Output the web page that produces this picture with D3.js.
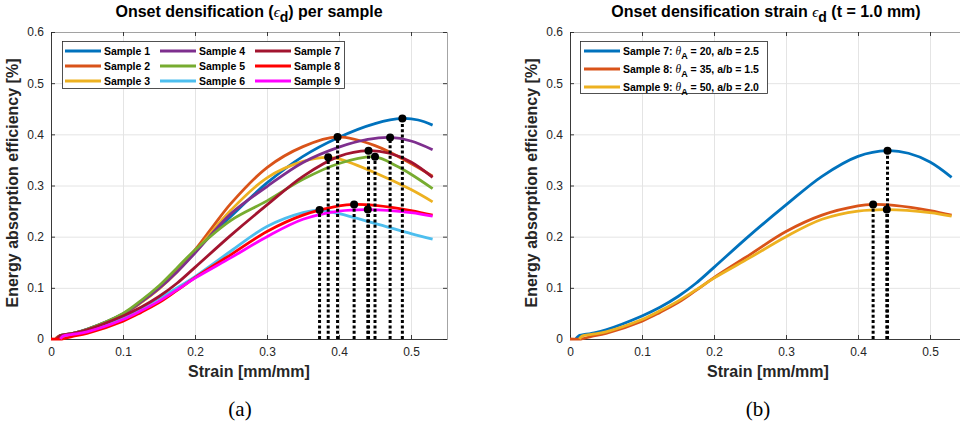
<!DOCTYPE html>
<html>
<head>
<meta charset="utf-8">
<script src="https://cdn.jsdelivr.net/npm/d3@7"></script>
<style>
  body { margin: 0; background: #fff; }
</style>
</head>
<body>
<svg id="chart" width="960" height="430" font-family="Liberation Sans, Arial, Helvetica, sans-serif"></svg>
<script>
// Energy absorption efficiency vs. strain, per sample ([strain, efficiency])
const sample1 = [[0.008,0],[0.012,0.006],[0.03,0.011],[0.05,0.019],[0.1,0.049],[0.125,0.073],[0.15,0.1],[0.175,0.134],[0.2,0.172],[0.25,0.24],[0.3,0.305],[0.35,0.357],[0.398,0.393],[0.45,0.421],[0.488,0.431],[0.51,0.428],[0.53,0.418]];
const sample2 = [[0.006,0],[0.01,0.005],[0.03,0.01],[0.05,0.018],[0.1,0.048],[0.125,0.072],[0.15,0.099],[0.175,0.133],[0.2,0.174],[0.225,0.22],[0.25,0.265],[0.3,0.335],[0.35,0.376],[0.398,0.395],[0.45,0.378],[0.5,0.343],[0.53,0.318]];
const sample3 = [[0.01,0],[0.014,0.006],[0.03,0.01],[0.05,0.018],[0.1,0.048],[0.125,0.071],[0.15,0.098],[0.175,0.131],[0.2,0.17],[0.25,0.252],[0.3,0.315],[0.35,0.347],[0.385,0.355],[0.4,0.352],[0.45,0.325],[0.5,0.292],[0.53,0.268]];
const sample4 = [[0.008,0],[0.012,0.006],[0.03,0.011],[0.05,0.019],[0.1,0.049],[0.125,0.072],[0.15,0.099],[0.175,0.131],[0.2,0.168],[0.25,0.245],[0.3,0.298],[0.35,0.345],[0.4,0.375],[0.44,0.39],[0.471,0.394],[0.5,0.387],[0.53,0.37]];
const sample5 = [[0.008,0],[0.012,0.006],[0.03,0.011],[0.05,0.019],[0.1,0.05],[0.125,0.075],[0.15,0.104],[0.175,0.139],[0.2,0.174],[0.25,0.232],[0.3,0.27],[0.35,0.312],[0.4,0.343],[0.45,0.356],[0.48,0.338],[0.5,0.322],[0.53,0.294]];
const sample6 = [[0.012,0],[0.016,0.005],[0.03,0.009],[0.05,0.015],[0.1,0.042],[0.125,0.06],[0.15,0.08],[0.175,0.1],[0.2,0.122],[0.25,0.172],[0.3,0.22],[0.35,0.247],[0.373,0.252],[0.4,0.245],[0.45,0.226],[0.5,0.206],[0.53,0.195]];
const sample7 = [[0.008,0],[0.012,0.006],[0.03,0.011],[0.05,0.018],[0.1,0.045],[0.125,0.062],[0.15,0.083],[0.175,0.109],[0.2,0.14],[0.25,0.203],[0.3,0.262],[0.35,0.318],[0.4,0.357],[0.441,0.368],[0.47,0.363],[0.5,0.346],[0.53,0.316]];
const sample8 = [[0,0],[0.015,0],[0.03,0.005],[0.05,0.011],[0.1,0.035],[0.125,0.052],[0.15,0.071],[0.175,0.095],[0.2,0.12],[0.25,0.165],[0.3,0.21],[0.35,0.242],[0.4,0.26],[0.421,0.263],[0.45,0.261],[0.5,0.251],[0.53,0.242]];
const sample9 = [[0.013,0],[0.017,0.006],[0.03,0.009],[0.05,0.014],[0.1,0.038],[0.125,0.055],[0.15,0.074],[0.175,0.096],[0.2,0.119],[0.25,0.159],[0.3,0.2],[0.35,0.234],[0.4,0.25],[0.44,0.253],[0.5,0.247],[0.53,0.24]];

const sampleNames = ["Sample 1","Sample 2","Sample 3","Sample 4","Sample 5","Sample 6","Sample 7","Sample 8","Sample 9"];
const sampleColors = ["#0072BD","#D95319","#EDB120","#7E2F8E","#77AC30","#4DBEEE","#A2142F","#FF0000","#FF00FF"];

// Panel (b): samples with t = 1.0 mm
const thicknessSamples = [7, 8, 9];
const thetaA = [20, 35, 50];
const aspectAB = ["2.5", "1.5", "2.0"];
const thicknessColors = ["#0072BD","#D95319","#EDB120"];

const xTicks = [0, 0.1, 0.2, 0.3, 0.4, 0.5];
const yTicks = [0, 0.1, 0.2, 0.3, 0.4, 0.5, 0.6];

const allSamples = [sample1, sample2, sample3, sample4, sample5, sample6, sample7, sample8, sample9];

const SANS = "Liberation Sans, Arial, Helvetica, sans-serif";
const SERIF = "Liberation Serif, DejaVu Serif, serif";
const svg = d3.select("#chart");
const fmt = d => d === 0 ? "0" : d3.format(".1f")(d);

const plotTop = 32, plotBottom = 339, plotW = 396;

function panel(left) {
  const g = svg.append("g");
  const x = d3.scaleLinear().domain([0, 0.55]).range([left, left + plotW]);
  const y = d3.scaleLinear().domain([0, 0.6]).range([plotBottom, plotTop]);

  // grid
  g.append("g").attr("transform", `translate(0,${plotBottom})`)
    .call(d3.axisBottom(x).tickValues(xTicks).tickSize(-(plotBottom - plotTop)).tickFormat(""))
    .call(a => a.select(".domain").remove())
    .call(a => a.selectAll("line").attr("stroke", "#e4e4e4").attr("stroke-width", 1));
  g.append("g").attr("transform", `translate(${left},0)`)
    .call(d3.axisLeft(y).tickValues(yTicks).tickSize(-plotW).tickFormat(""))
    .call(a => a.select(".domain").remove())
    .call(a => a.selectAll("line").attr("stroke", "#e4e4e4").attr("stroke-width", 1));

  const style = a => {
    a.select(".domain").attr("stroke", "#262626").attr("stroke-width", 0.9);
    a.selectAll(".tick line").attr("stroke", "#262626").attr("stroke-width", 0.9);
    a.selectAll("text").attr("fill", "#262626").attr("font-size", 12).attr("font-family", SANS);
  };
  g.append("g").attr("transform", `translate(0,${plotBottom})`)
    .call(d3.axisBottom(x).tickValues(xTicks).tickSizeInner(-4).tickSizeOuter(0).tickPadding(8).tickFormat(fmt)).call(style);
  g.append("g").attr("transform", `translate(0,${plotTop})`)
    .call(d3.axisTop(x).tickValues(xTicks).tickSizeInner(-4).tickSizeOuter(0).tickFormat("")).call(style)
    .call(a => a.select(".domain").attr("stroke", "#9a9a9a"));
  g.append("g").attr("transform", `translate(${left},0)`)
    .call(d3.axisLeft(y).tickValues(yTicks).tickSizeInner(-4).tickSizeOuter(0).tickPadding(7).tickFormat(fmt)).call(style);
  g.append("g").attr("transform", `translate(${left + plotW},0)`)
    .call(d3.axisRight(y).tickValues(yTicks).tickSizeInner(-4).tickSizeOuter(0).tickFormat("")).call(style)
    .call(a => a.select(".domain").attr("stroke", "#9a9a9a"));

  // axis titles
  const cx = left + plotW / 2;
  g.append("text").attr("x", cx).attr("y", 377).attr("text-anchor", "middle").attr("font-family", SANS)
    .attr("font-size", 16).attr("font-weight", "bold").attr("fill", "#262626").text("Strain [mm/mm]");
  g.append("text").attr("transform", `translate(${left - 33},183) rotate(-90)`).attr("text-anchor", "middle")
    .attr("font-family", SANS).attr("font-size", 16).attr("font-weight", "bold").attr("fill", "#262626")
    .text("Energy absorption efficiency [%]");
  return { g, x, y, cx };
}

const line = (x, y) => d3.line().x(d => x(d[0])).y(d => y(d[1])).curve(d3.curveCatmullRom.alpha(0.5));

function drawCurves(p, series, colors) {
  const { g, x, y } = p;
  const lg = line(x, y);
  series.forEach((s, i) => {
    g.append("path").attr("d", lg(s)).attr("fill", "none")
      .attr("stroke", colors[i]).attr("stroke-width", 2.8).attr("stroke-linejoin", "round");
  });
  // onset of densification: peak efficiency of each curve
  const peaks = series.map(s => s.reduce((m, d) => d[1] > m[1] ? d : m));
  peaks.forEach(pk => {
    g.append("line").attr("x1", x(pk[0])).attr("x2", x(pk[0]))
      .attr("y1", y(0)).attr("y2", y(pk[1]))
      .attr("stroke", "#000").attr("stroke-width", 3).attr("stroke-dasharray", "3,2.3");
  });
  peaks.forEach(pk => {
    g.append("circle").attr("cx", x(pk[0])).attr("cy", y(pk[1])).attr("r", 4).attr("fill", "#000");
  });
}

function epsTitle(xc, before, after) {
  const t = svg.append("text").attr("x", xc).attr("y", 17).attr("text-anchor", "middle")
    .attr("font-family", SANS).attr("font-size", 16).attr("font-weight", "bold").attr("fill", "#000");
  t.append("tspan").text(before);
  t.append("tspan").attr("font-weight", "normal").attr("font-family", SERIF).attr("font-style", "italic")
    .attr("font-size", 15).text("ϵ");
  t.append("tspan").attr("dy", 5).attr("font-size", 14).text("d");
  t.append("tspan").attr("dy", -5).text(after);
}

// ---- Panel (a) ----
const pa = panel(51);
drawCurves(pa, allSamples, sampleColors);
epsTitle(pa.cx, "Onset densification (", ") per sample");

// legend (a): three columns
const legA = svg.append("g");
legA.append("rect").attr("x", 62.5).attr("y", 41.5).attr("width", 282).attr("height", 47)
  .attr("fill", "#fff").attr("stroke", "#262626").attr("stroke-width", 0.8);
sampleNames.forEach((name, i) => {
  const col = Math.floor(i / 3), row = i % 3;
  const lx = 65 + col * 95, ly = 51 + row * 15;
  legA.append("line").attr("x1", lx).attr("x2", lx + 36).attr("y1", ly).attr("y2", ly)
    .attr("stroke", sampleColors[i]).attr("stroke-width", 2.8);
  legA.append("text").attr("x", lx + 39).attr("y", ly).attr("dy", "0.36em").attr("font-family", SANS)
    .attr("font-size", 10.5).attr("font-weight", "bold").attr("fill", "#000").text(name);
});

svg.append("text").attr("x", 240).attr("y", 416).attr("text-anchor", "middle")
  .attr("font-family", SERIF).attr("font-size", 21).attr("fill", "#000").text("(a)");

// ---- Panel (b) ----
const pb = panel(570);
drawCurves(pb, thicknessSamples.map(k => allSamples[k - 1]), thicknessColors);
epsTitle(766, "Onset densification strain ", " (t = 1.0 mm)");

const legB = svg.append("g");
legB.append("rect").attr("x", 580.5).attr("y", 41.5).attr("width", 187).attr("height", 52)
  .attr("fill", "#fff").attr("stroke", "#262626").attr("stroke-width", 0.8);
thicknessSamples.forEach((k, i) => {
  const lx = 584, ly = 51 + i * 18;
  legB.append("line").attr("x1", lx).attr("x2", lx + 36).attr("y1", ly).attr("y2", ly)
    .attr("stroke", thicknessColors[i]).attr("stroke-width", 2.8);
  const t = legB.append("text").attr("x", lx + 39).attr("y", ly).attr("dy", "0.36em").attr("font-family", SANS)
    .attr("font-size", 10.5).attr("font-weight", "bold").attr("fill", "#000");
  t.append("tspan").text(`Sample ${k}: `);
  t.append("tspan").attr("font-style", "italic").attr("font-weight", "normal").attr("font-family", SERIF)
    .attr("font-size", 11.5).text("θ");
  t.append("tspan").attr("dy", 4).attr("font-size", 9).text("A");
  t.append("tspan").attr("dy", -4).text(` = ${thetaA[i]}, a/b = ${aspectAB[i]}`);
});

svg.append("text").attr("x", 758).attr("y", 416).attr("text-anchor", "middle")
  .attr("font-family", SERIF).attr("font-size", 21).attr("fill", "#000").text("(b)");
</script>
</body>
</html>
